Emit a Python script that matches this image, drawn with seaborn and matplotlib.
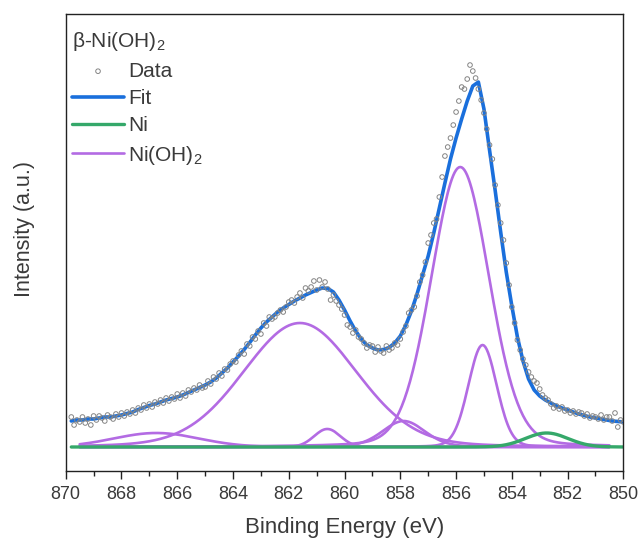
import numpy as np
import pandas as pd
import seaborn as sns
import matplotlib.pyplot as plt
from matplotlib.ticker import MultipleLocator

# measured spectrum, 0.1 eV steps from 869.8 down to 850.0 eV
data_be = np.round(np.arange(869.8, 849.95, -0.1), 1)
data_counts = [
    30, 22, 27, 25, 30, 24, 28, 22, 31,
    27, 31, 29, 26, 32, 30, 28, 33, 30, 34,
    31, 35, 33, 37, 34, 39, 37, 42, 39, 43,
    40, 45, 43, 47, 44, 49, 46, 50, 48, 53,
    49, 54, 51, 57, 55, 59, 57, 62, 59, 60,
    66, 63, 70, 68, 74, 71, 78, 77, 83, 86,
    85, 92, 96, 93, 103, 101, 110, 108, 116, 113,
    124, 121, 130, 128, 130, 134, 137, 135, 140, 145,
    147, 144, 150, 154, 149, 159, 156, 160, 166, 157,
    167, 160, 165, 158, 147, 152, 146, 142, 138, 132,
    122, 120, 114, 117, 110, 108, 104, 99, 102,
    101, 95, 100, 96, 94, 101, 97, 99, 104, 102,
    108, 115, 121, 134, 137, 140, 151, 165, 172, 185,
    204, 212, 224, 228, 250, 270, 291, 300, 309, 322,
    335, 346, 360, 358, 368, 382, 376, 369, 358, 347,
    334, 318, 302, 288, 262, 242, 224, 207, 184, 162,
    140, 124, 107, 97, 88, 82, 75, 70, 66, 64,
    58, 52, 49, 47, 43, 39, 41, 38, 40, 36,
    37, 34, 36, 33, 35, 34, 31, 33, 29, 31,
    30, 28, 32, 27, 30, 30, 26, 34, 20, 27,
    25,
]

# fit envelope, 0.2 eV steps
fit_be = np.round(np.arange(869.8, 849.95, -0.2), 1)
fit_counts = [
    26, 27, 27, 28, 28, 29, 30, 30, 31, 32,
    33.5, 35, 37.5, 39.5, 41.5, 43, 45, 47, 48.5, 50,
    52, 54.5, 57, 59.5, 62, 65, 69, 74, 79, 85,
    91, 97.5, 104.5, 112, 119, 125, 130, 135, 139, 142.5,
    146, 149, 152, 154.5, 157, 159, 158.5, 155, 147, 137,
    126, 116, 108, 102, 99, 97, 97.5, 99.5, 104, 111,
    122, 136, 153, 172, 191, 214, 239, 264, 288, 309,
    328, 346, 361, 365, 338, 297, 257, 215, 175, 141,
    110, 86, 68, 57, 51, 47, 44, 41, 39, 37,
    35, 33, 31.5, 30, 29, 28, 27, 26, 25.5, 25,
]

# fitted components (pseudo-Voigt): centre (eV), height, FWHM (eV), Lorentzian fraction
ni_oh2_centres = [866.75, 861.6, 860.62, 857.88, 855.85, 855.05]
ni_oh2_heights = [14, 124, 18, 26, 280, 102]
ni_oh2_fwhm = [3.6, 4.8, 1.1, 1.8, 2.45, 1.2]
ni_oh2_lfrac = [0.0, 0.12, 0.0, 0.2, 0.12, 0.1]
ni_centre, ni_height, ni_fwhm = 852.75, 14, 1.8


def pseudo_voigt(x, c, h, w, m):
    t = 4 * (x - c) ** 2 / w ** 2
    return h * ((1 - m) * np.exp(-np.log(2) * t) + m / (1 + t))


sns.set_style("ticks")
plt.rcParams["font.family"] = ["Liberation Sans", "DejaVu Sans"]
plt.rcParams["mathtext.default"] = "regular"
text_col = "#3a3a3a"

fig, ax = plt.subplots(figsize=(6.4, 5.4), dpi=100)
fig.subplots_adjust(left=0.1027, right=0.974, bottom=0.1278, top=0.974)

purple = "#b36be3"
green = "#35a86a"
blue = "#1a6fdc"

comp_be = np.linspace(869.5, 850.5, 381)
for i in range(len(ni_oh2_centres)):
    y = pseudo_voigt(comp_be, ni_oh2_centres[i], ni_oh2_heights[i],
                     ni_oh2_fwhm[i], ni_oh2_lfrac[i])
    sns.lineplot(x=comp_be, y=y, color=purple, lw=1.9, ax=ax,
                 label="Ni(OH)$_2$" if i == 0 else None)

ni_be = np.linspace(869.8, 850.0, 397)
sns.lineplot(x=ni_be, y=pseudo_voigt(ni_be, ni_centre, ni_height, ni_fwhm, 0.0),
             color=green, lw=2.4, ax=ax, label="Ni")

sns.lineplot(x=fit_be, y=fit_counts, color=blue, lw=2.6, ax=ax, label="Fit")

df = pd.DataFrame({"be": data_be, "counts": data_counts})
sns.scatterplot(data=df, x="be", y="counts", marker="o", s=11,
                facecolors="none", edgecolors="#858585", linewidths=0.7,
                ax=ax, label="Data", zorder=3)

ax.set_xlim(870, 850)
ax.set_ylim(-24, 433)
ax.set_yticks([])
ax.xaxis.set_major_locator(MultipleLocator(2))
ax.xaxis.set_minor_locator(MultipleLocator(1))
ax.tick_params(axis="x", which="major", direction="out", length=6, width=1,
               labelsize=13, labelcolor=text_col, color="#222222", pad=5)
ax.tick_params(axis="x", which="minor", direction="out", length=3.5, width=1,
               color="#222222")
for sp in ax.spines.values():
    sp.set_color("#222222")
    sp.set_linewidth(1)

ax.set_xlabel("Binding Energy (eV)", fontsize=16, color=text_col, labelpad=10)
ax.set_ylabel("Intensity (a.u.)", fontsize=15.5, color=text_col)
ax.yaxis.set_label_coords(-0.055, 0.53)

handles, labels = ax.get_legend_handles_labels()
order = ["Data", "Fit", "Ni", "Ni(OH)$_2$"]
hmap = dict(zip(labels, handles))
leg = ax.legend([hmap[k] for k in order], order, loc="upper left",
                bbox_to_anchor=(0.0, 0.978),
                title="β-Ni(OH)$_2$", alignment="left", frameon=False,
                fontsize=15, title_fontsize=15, handlelength=2.5,
                handletextpad=0.2, labelspacing=0.4, borderaxespad=0.0,
                borderpad=0.3)
for t in leg.get_texts():
    t.set_color(text_col)
leg.get_title().set_color(text_col)

plt.savefig("out.png", dpi=100)
